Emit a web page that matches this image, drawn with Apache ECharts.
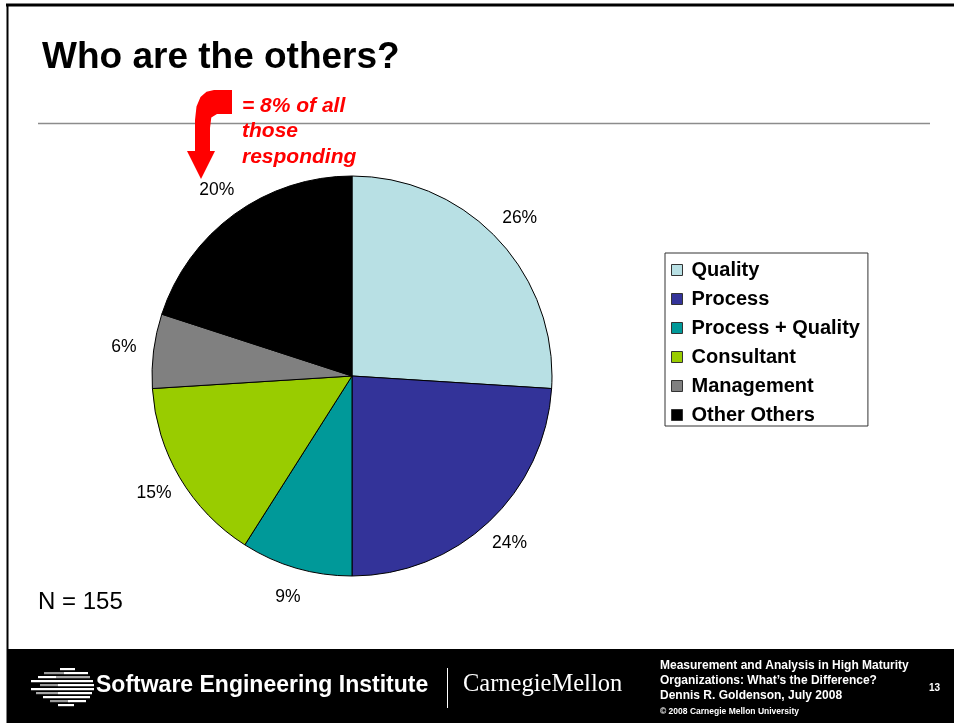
<!DOCTYPE html>
<html>
<head>
<meta charset="utf-8">
<script src="https://cdn.jsdelivr.net/npm/echarts@6/dist/echarts.min.js"></script>
<style>
  html, body { margin: 0; padding: 0; background: #fff; }
  #chart { width: 954px; height: 723px; }
</style>
</head>
<body>
<div id="chart"></div>
<script>
// Respondent groups among the "others" (share of group, %)
const categories = ['Quality', 'Process', 'Process + Quality', 'Consultant', 'Management', 'Other Others'];
const shares = [26, 24, 9, 15, 6, 20];
const colors = ['#B8E0E4', '#333399', '#009999', '#99CC00', '#808080', '#000000'];

const titleText = 'Who are the others?';
const noteLines = ['= 8% of all', 'those', 'responding'];
const sampleText = 'N = 155';
const footerLines = [
  'Measurement and Analysis in High Maturity',
  'Organizations: What\u2019s the Difference?',
  'Dennis R. Goldenson, July 2008'
];
const copyrightText = '\u00A9 2008 Carnegie Mellon University';
const pageNumber = '13';

const pieData = categories.map((name, i) => ({
  name: name,
  value: shares[i],
  itemStyle: { color: colors[i] }
}));

// Horizontal bars of the institute emblem
const emblemBars = [
  [60, 668, 15, '#ffffff'],
  [44, 672, 20, '#9a9a9a'], [64, 672, 24, '#ffffff'],
  [38, 676, 18, '#ffffff'], [56, 676, 34, '#a8a8a8'],
  [31, 680, 62, '#ffffff'],
  [40, 684, 18, '#9a9a9a'], [58, 684, 36, '#ffffff'],
  [31, 688, 63, '#ffffff'],
  [36, 692, 22, '#a8a8a8'], [58, 692, 34, '#ffffff'],
  [43, 696, 47, '#ffffff'],
  [50, 700, 20, '#9a9a9a'], [68, 700, 18, '#ffffff'],
  [58, 704, 16, '#ffffff']
];

// Outline of the bent callout arrow
const arrowOutline = [
  [232, 90], [232, 114], [217, 114], [211.3, 117.5], [210, 128], [210, 151],
  [215, 151], [201, 179], [187, 151], [195, 151], [195, 120],
  [196.5, 106.5], [200.5, 97], [206.5, 91.8], [214, 90]
];

const chart = echarts.init(document.getElementById('chart'), null, { renderer: 'canvas' });

const graphics = [
  // slide frame
  { type: 'rect', shape: { x: 0, y: 0, width: 954, height: 723 }, style: { fill: '#fff' }, z: -10 },
  { type: 'line', shape: { x1: 6, y1: 5, x2: 954, y2: 5 }, style: { stroke: '#000', lineWidth: 3 } },
  { type: 'line', shape: { x1: 7.5, y1: 4, x2: 7.5, y2: 723 }, style: { stroke: '#000', lineWidth: 2 } },
  // title and rule
  { type: 'text', x: 42, y: 39, style: { text: titleText, fill: '#000', font: 'bold 37px "Liberation Sans", Arial, sans-serif' } },
  { type: 'line', shape: { x1: 38, y1: 123.5, x2: 930, y2: 123.5 }, style: { stroke: '#8c8c8c', lineWidth: 1.5 } },
  // callout arrow
  { type: 'polygon', shape: { points: arrowOutline }, style: { fill: '#ff0000' } },
  { type: 'text', x: 242, y: 93, style: { text: noteLines.join('\n'), fill: '#ff0000', lineHeight: 25.5,
    font: 'italic bold 21px "Liberation Sans", Arial, sans-serif' } },
  // sample size
  { type: 'text', x: 38, y: 590, style: { text: sampleText, fill: '#000', font: '24px "Liberation Sans", Arial, sans-serif' } },
  // footer band
  { type: 'rect', shape: { x: 7, y: 649, width: 947, height: 74 }, style: { fill: '#000' } },
  { type: 'text', x: 96, y: 674, style: { text: 'Software Engineering Institute', fill: '#fff',
    font: 'bold 23px "Liberation Sans Narrow", "Liberation Sans", Arial, sans-serif' } },
  { type: 'line', shape: { x1: 447.5, y1: 668, x2: 447.5, y2: 708 }, style: { stroke: '#fff', lineWidth: 1 } },
  { type: 'text', x: 463, y: 672, style: { text: 'CarnegieMellon', fill: '#fff', font: '24.5px "Liberation Serif", "Times New Roman", serif' } },
  { type: 'text', x: 660, y: 658, style: { text: footerLines.join('\n'), fill: '#fff', lineHeight: 15,
    font: 'bold 12px "Liberation Sans", Arial, sans-serif' } },
  { type: 'text', x: 660, y: 707, style: { text: copyrightText, fill: '#fff', font: 'bold 8.5px "Liberation Sans", Arial, sans-serif' } },
  { type: 'text', x: 929, y: 683, style: { text: pageNumber, fill: '#fff', font: 'bold 10px "Liberation Sans", Arial, sans-serif' } }
];

emblemBars.forEach(b => {
  graphics.push({ type: 'rect', shape: { x: b[0], y: b[1], width: b[2], height: 2.2 }, style: { fill: b[3] } });
});

chart.setOption({
  animation: false,
  backgroundColor: '#fff',
  graphic: graphics,
  legend: {
    orient: 'vertical',
    left: 665,
    top: 253,
    data: categories,
    icon: 'rect',
    itemWidth: 11,
    itemHeight: 11,
    itemGap: 9,
    padding: [7, 8, 1, 6],
    borderColor: '#333',
    borderWidth: 1,
    backgroundColor: '#fff',
    selectedMode: false,
    itemStyle: { borderColor: '#333', borderWidth: 1 },
    textStyle: {
      fontFamily: '"Liberation Sans", Arial, sans-serif',
      fontWeight: 'bold',
      fontSize: 20,
      lineHeight: 20,
      color: '#000',
      padding: [0, 0, 0, 4]
    }
  },
  series: [
    {
      type: 'pie',
      center: [352, 376],
      radius: 200,
      startAngle: 90,
      clockwise: true,
      data: pieData,
      itemStyle: { borderColor: '#000', borderWidth: 1 },
      label: { show: false },
      labelLine: { show: false },
      emphasis: { disabled: true },
      silent: true
    },
    {
      // transparent ring carrying the percentage labels just outside the pie
      type: 'pie',
      center: [352, 376],
      radius: [200, 254],
      startAngle: 90,
      clockwise: true,
      data: pieData.map(d => ({ name: d.name, value: d.value })),
      itemStyle: { color: 'rgba(0,0,0,0)', borderWidth: 0 },
      label: {
        show: true,
        position: 'inside',
        formatter: '{c}%',
        color: '#000',
        fontSize: 17.5,
        fontFamily: '"Liberation Sans", Arial, sans-serif'
      },
      labelLine: { show: false },
      emphasis: { disabled: true },
      silent: true
    }
  ]
});
</script>
</body>
</html>
